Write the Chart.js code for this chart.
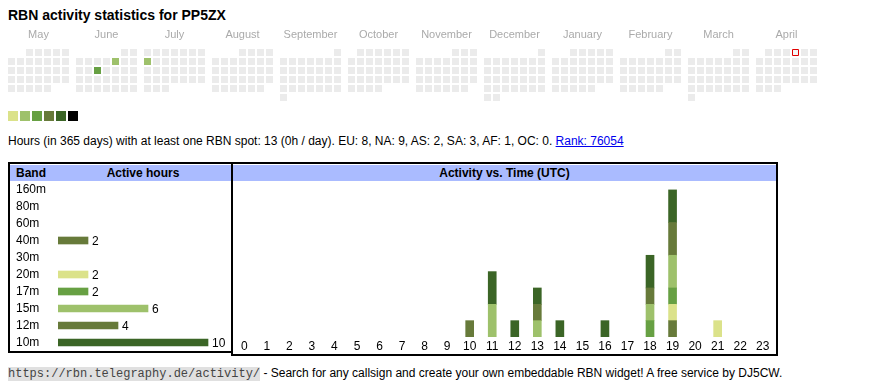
<!DOCTYPE html>
<html>
<head>
<meta charset="utf-8">
<title>RBN activity statistics for PP5ZX</title>
<script src="https://cdn.jsdelivr.net/npm/chart.js@4.4.1/dist/chart.umd.min.js"></script>
<style>
    body { margin: 0; background: #fff; font-family: "Liberation Sans", Arial, sans-serif; color: #000; }
    .abs { position: absolute; }
    #title { left: 8px; top: 7px; font-size: 14px; line-height: 16px; font-weight: bold; white-space: nowrap; }
    .swatch { position: absolute; top: 111px; width: 10px; height: 10px; }
    #summary { left: 8px; top: 134px; font-size: 12px; line-height: 14px; white-space: nowrap; }
    #summary a { color: #00e; }
    .box { position: absolute; border: 2px solid #000; background: #fff; }
    .head { position: absolute; left: 0; right: 0; top: 1px; height: 16px; background: #aabbff;
            font-size: 12px; font-weight: bold; line-height: 16px; white-space: nowrap; }
    #footer { left: 8px; top: 366px; font-size: 12px; line-height: 14px; white-space: nowrap; }
    #footer code { font-family: "Liberation Mono", monospace; font-size: 12px; background: #e0e0e0; color: #444; }
</style>
</head>
<body>
<div id="title" class="abs">RBN activity statistics for PP5ZX</div>
<canvas id="calendar" class="abs" width="870" height="84" style="left:0;top:22px"></canvas>
<div id="swatches"></div>
<div id="summary" class="abs">Hours (in 365 days) with at least one RBN spot: 13 (0h / day). EU: 8, NA: 9, AS: 2, SA: 3, AF: 1, OC: 0. <a href="#">Rank: 76054</a></div>

<div class="box" style="left:8px;top:162px;width:222px;height:187px">
    <div class="head"><span style="position:absolute;left:6px">Band</span><span style="position:absolute;left:44px;right:0;text-align:center">Active hours</span></div>
</div>
<canvas id="bands" class="abs" width="222" height="170" style="left:10px;top:181px"></canvas>

<div class="box" style="left:231px;top:162px;width:543px;height:190px">
    <div class="head" style="text-align:center">Activity vs. Time (UTC)</div>
</div>
<canvas id="hours" class="abs" width="541" height="168" style="left:233px;top:185px"></canvas>

<div id="footer" class="abs"><code>https://rbn.telegraphy.de/activity/</code> - Search for any callsign and create your own embeddable RBN widget! A free service by DJ5CW.</div>

<script>
// Calendar (May 2024 - April 2025)
const monthLabels = ['May', 'June', 'July', 'August', 'September', 'October', 'November', 'December', 'January', 'February', 'March', 'April'];
const firstMonth = [2024, 4];
const activeDays = ['2024-06-07', '2024-06-12', '2024-07-08'];
const activeLevels = [2, 3, 2];
const todayDate = '2025-04-04';
const levelColors = ['#ebebeb', '#dbe28a', '#9ec16b', '#67a043', '#677a3a', '#3b6526', '#000000'];

// Bands
const bands = ['160m', '80m', '60m', '40m', '30m', '20m', '17m', '15m', '12m', '10m'];
const bandHours = [0, 0, 0, 2, 0, 2, 2, 6, 4, 10];
const bandColors = ['#9ec16b', '#67a043', '#dbe28a', '#677a3a', '#9ec16b', '#dbe28a', '#67a043', '#9ec16b', '#677a3a', '#3b6526'];

// Activity vs time (UTC hour)
const hourLabels = ['0', '1', '2', '3', '4', '5', '6', '7', '8', '9', '10', '11', '12', '13', '14', '15', '16', '17', '18', '19', '20', '21', '22', '23'];
const hours160m = [0, 0, 0, 0, 0, 0, 0, 0, 0, 0, 0, 0, 0, 0, 0, 0, 0, 0, 0, 0, 0, 0, 0, 0];
const hours80m  = [0, 0, 0, 0, 0, 0, 0, 0, 0, 0, 0, 0, 0, 0, 0, 0, 0, 0, 0, 0, 0, 0, 0, 0];
const hours60m  = [0, 0, 0, 0, 0, 0, 0, 0, 0, 0, 0, 0, 0, 0, 0, 0, 0, 0, 0, 0, 0, 0, 0, 0];
const hours40m  = [0, 0, 0, 0, 0, 0, 0, 0, 0, 0, 1, 0, 0, 0, 0, 0, 0, 0, 0, 1, 0, 0, 0, 0];
const hours30m  = [0, 0, 0, 0, 0, 0, 0, 0, 0, 0, 0, 0, 0, 0, 0, 0, 0, 0, 0, 0, 0, 0, 0, 0];
const hours20m  = [0, 0, 0, 0, 0, 0, 0, 0, 0, 0, 0, 0, 0, 0, 0, 0, 0, 0, 0, 1, 0, 1, 0, 0];
const hours17m  = [0, 0, 0, 0, 0, 0, 0, 0, 0, 0, 0, 0, 0, 0, 0, 0, 0, 0, 1, 1, 0, 0, 0, 0];
const hours15m  = [0, 0, 0, 0, 0, 0, 0, 0, 0, 0, 0, 2, 0, 1, 0, 0, 0, 0, 1, 2, 0, 0, 0, 0];
const hours12m  = [0, 0, 0, 0, 0, 0, 0, 0, 0, 0, 0, 0, 0, 1, 0, 0, 0, 0, 1, 2, 0, 0, 0, 0];
const hours10m  = [0, 0, 0, 0, 0, 0, 0, 0, 0, 0, 0, 2, 1, 1, 1, 0, 1, 0, 2, 2, 0, 0, 0, 0];
const bandSeries = [hours160m, hours80m, hours60m, hours40m, hours30m, hours20m, hours17m, hours15m, hours12m, hours10m];

const MONTH_STRIDE = 68 / 9;   // month block width in cells (7 cells + gap)
const CELL = 9;

Chart.defaults.font.family = '"Liberation Sans", Arial, sans-serif';
Chart.defaults.animation = false;
Chart.defaults.events = [];
Chart.defaults.layout.autoPadding = false;

function pad2(n) { return (n < 10 ? '0' : '') + n; }
function skipZero(arr) { return arr.map(v => v === 0 ? null : v); }

function buildCalendar() {
    const points = [], fills = [], borders = [], widths = [], radii = [];
    for (let m = 0; m < 12; m++) {
        const y = firstMonth[0] + Math.floor((firstMonth[1] + m) / 12);
        const mo = (firstMonth[1] + m) % 12;
        const days = new Date(y, mo + 1, 0).getDate();
        const offset = (new Date(y, mo, 1).getDay() + 6) % 7; // Monday first
        for (let d = 1; d <= days; d++) {
            const key = y + '-' + pad2(mo + 1) + '-' + pad2(d);
            const idx = offset + d - 1;
            points.push({ x: m * MONTH_STRIDE + idx % 7, y: Math.floor(idx / 7) });
            const a = activeDays.indexOf(key);
            if (key === todayDate) {
                fills.push('#f6f6f6'); borders.push('#e00000'); widths.push(1); radii.push(6 / Math.SQRT2);
            } else {
                fills.push(levelColors[a >= 0 ? activeLevels[a] : 0]);
                borders.push('rgba(0,0,0,0)'); widths.push(0); radii.push(7 / Math.SQRT2);
            }
        }
    }
    return { points, fills, borders, widths, radii };
}

const cal = buildCalendar();
new Chart(document.getElementById('calendar'), {
    type: 'scatter',
    data: {
        datasets: [{
            data: cal.points,
            pointStyle: 'rect',
            pointRadius: cal.radii,
            pointBackgroundColor: cal.fills,
            pointBorderColor: cal.borders,
            pointBorderWidth: cal.widths
        }]
    },
    options: {
        responsive: false,
        layout: { padding: 0 },
        plugins: { legend: { display: false }, tooltip: { enabled: false } },
        scales: {
            x: {
                type: 'linear',
                position: 'top',
                min: -11.5 / CELL,
                max: -11.5 / CELL + 870 / CELL,
                grid: { display: false, drawTicks: false },
                border: { display: false },
                afterFit: function(scale) { scale.height = 26; },
                afterBuildTicks: function(scale) {
                    scale.ticks = monthLabels.map((_, m) => ({ value: m * MONTH_STRIDE + 3 }));
                },
                ticks: {
                    autoSkip: false,
                    maxRotation: 0,
                    padding: 6,
                    color: '#aaaaaa',
                    font: { size: 11 },
                    callback: function(value, index) { return monthLabels[index]; }
                }
            },
            y: {
                display: false,
                reverse: true,
                min: -0.5,
                max: -0.5 + 58 / CELL
            }
        }
    }
});

// legend swatches
const sw = document.getElementById('swatches');
levelColors.slice(1).forEach((c, i) => {
    const d = document.createElement('div');
    d.className = 'swatch';
    d.style.left = (8 + i * 12) + 'px';
    d.style.background = c;
    sw.appendChild(d);
});

// value labels after band bars
const barValueLabels = {
    id: 'barValueLabels',
    afterDatasetsDraw(chart) {
        const ctx = chart.ctx;
        const meta = chart.getDatasetMeta(0);
        ctx.save();
        ctx.font = '12px "Liberation Sans", Arial, sans-serif';
        ctx.fillStyle = '#000';
        ctx.textBaseline = 'middle';
        meta.data.forEach((bar, i) => {
            if (bandHours[i] > 0) ctx.fillText(String(bandHours[i]), bar.x + 4, bar.y + 1);
        });
        ctx.restore();
    }
};

new Chart(document.getElementById('bands'), {
    type: 'bar',
    data: {
        labels: bands,
        datasets: [{
            data: skipZero(bandHours),
            backgroundColor: bandColors,
            barThickness: 7
        }]
    },
    options: {
        indexAxis: 'y',
        responsive: false,
        layout: { padding: { left: 6, right: 0, top: 0, bottom: 0 } },
        plugins: { legend: { display: false }, tooltip: { enabled: false } },
        scales: {
            x: { display: false, min: 0, max: 174 / 15 },
            y: {
                grid: { display: false, drawTicks: false },
                border: { display: false },
                afterFit: function(scale) {
                    scale.width = 42;
                    scale.paddingTop = 0;
                    scale.paddingBottom = 0;
                },
                ticks: { autoSkip: false, crossAlign: 'far', color: '#000', font: { size: 12 }, padding: 0 }
            }
        }
    },
    plugins: [barValueLabels]
});

new Chart(document.getElementById('hours'), {
    type: 'bar',
    data: {
        labels: hourLabels,
        datasets: bands.map((b, i) => ({
            label: b,
            data: skipZero(bandSeries[i]),
            backgroundColor: bandColors[i],
            barThickness: 8
        }))
    },
    options: {
        responsive: false,
        layout: { padding: 0 },
        plugins: { legend: { display: false }, tooltip: { enabled: false } },
        scales: {
            x: {
                stacked: true,
                grid: { display: false, drawTicks: false },
                border: { display: false },
                afterFit: function(scale) {
                    scale.height = 16;
                    scale.paddingLeft = 0;
                    scale.paddingRight = 0;
                },
                ticks: { autoSkip: false, maxRotation: 0, color: '#000', font: { size: 12 }, padding: 2 }
            },
            y: { stacked: true, display: false, min: 0, max: 9.3 }
        }
    }
});
</script>
</body>
</html>
